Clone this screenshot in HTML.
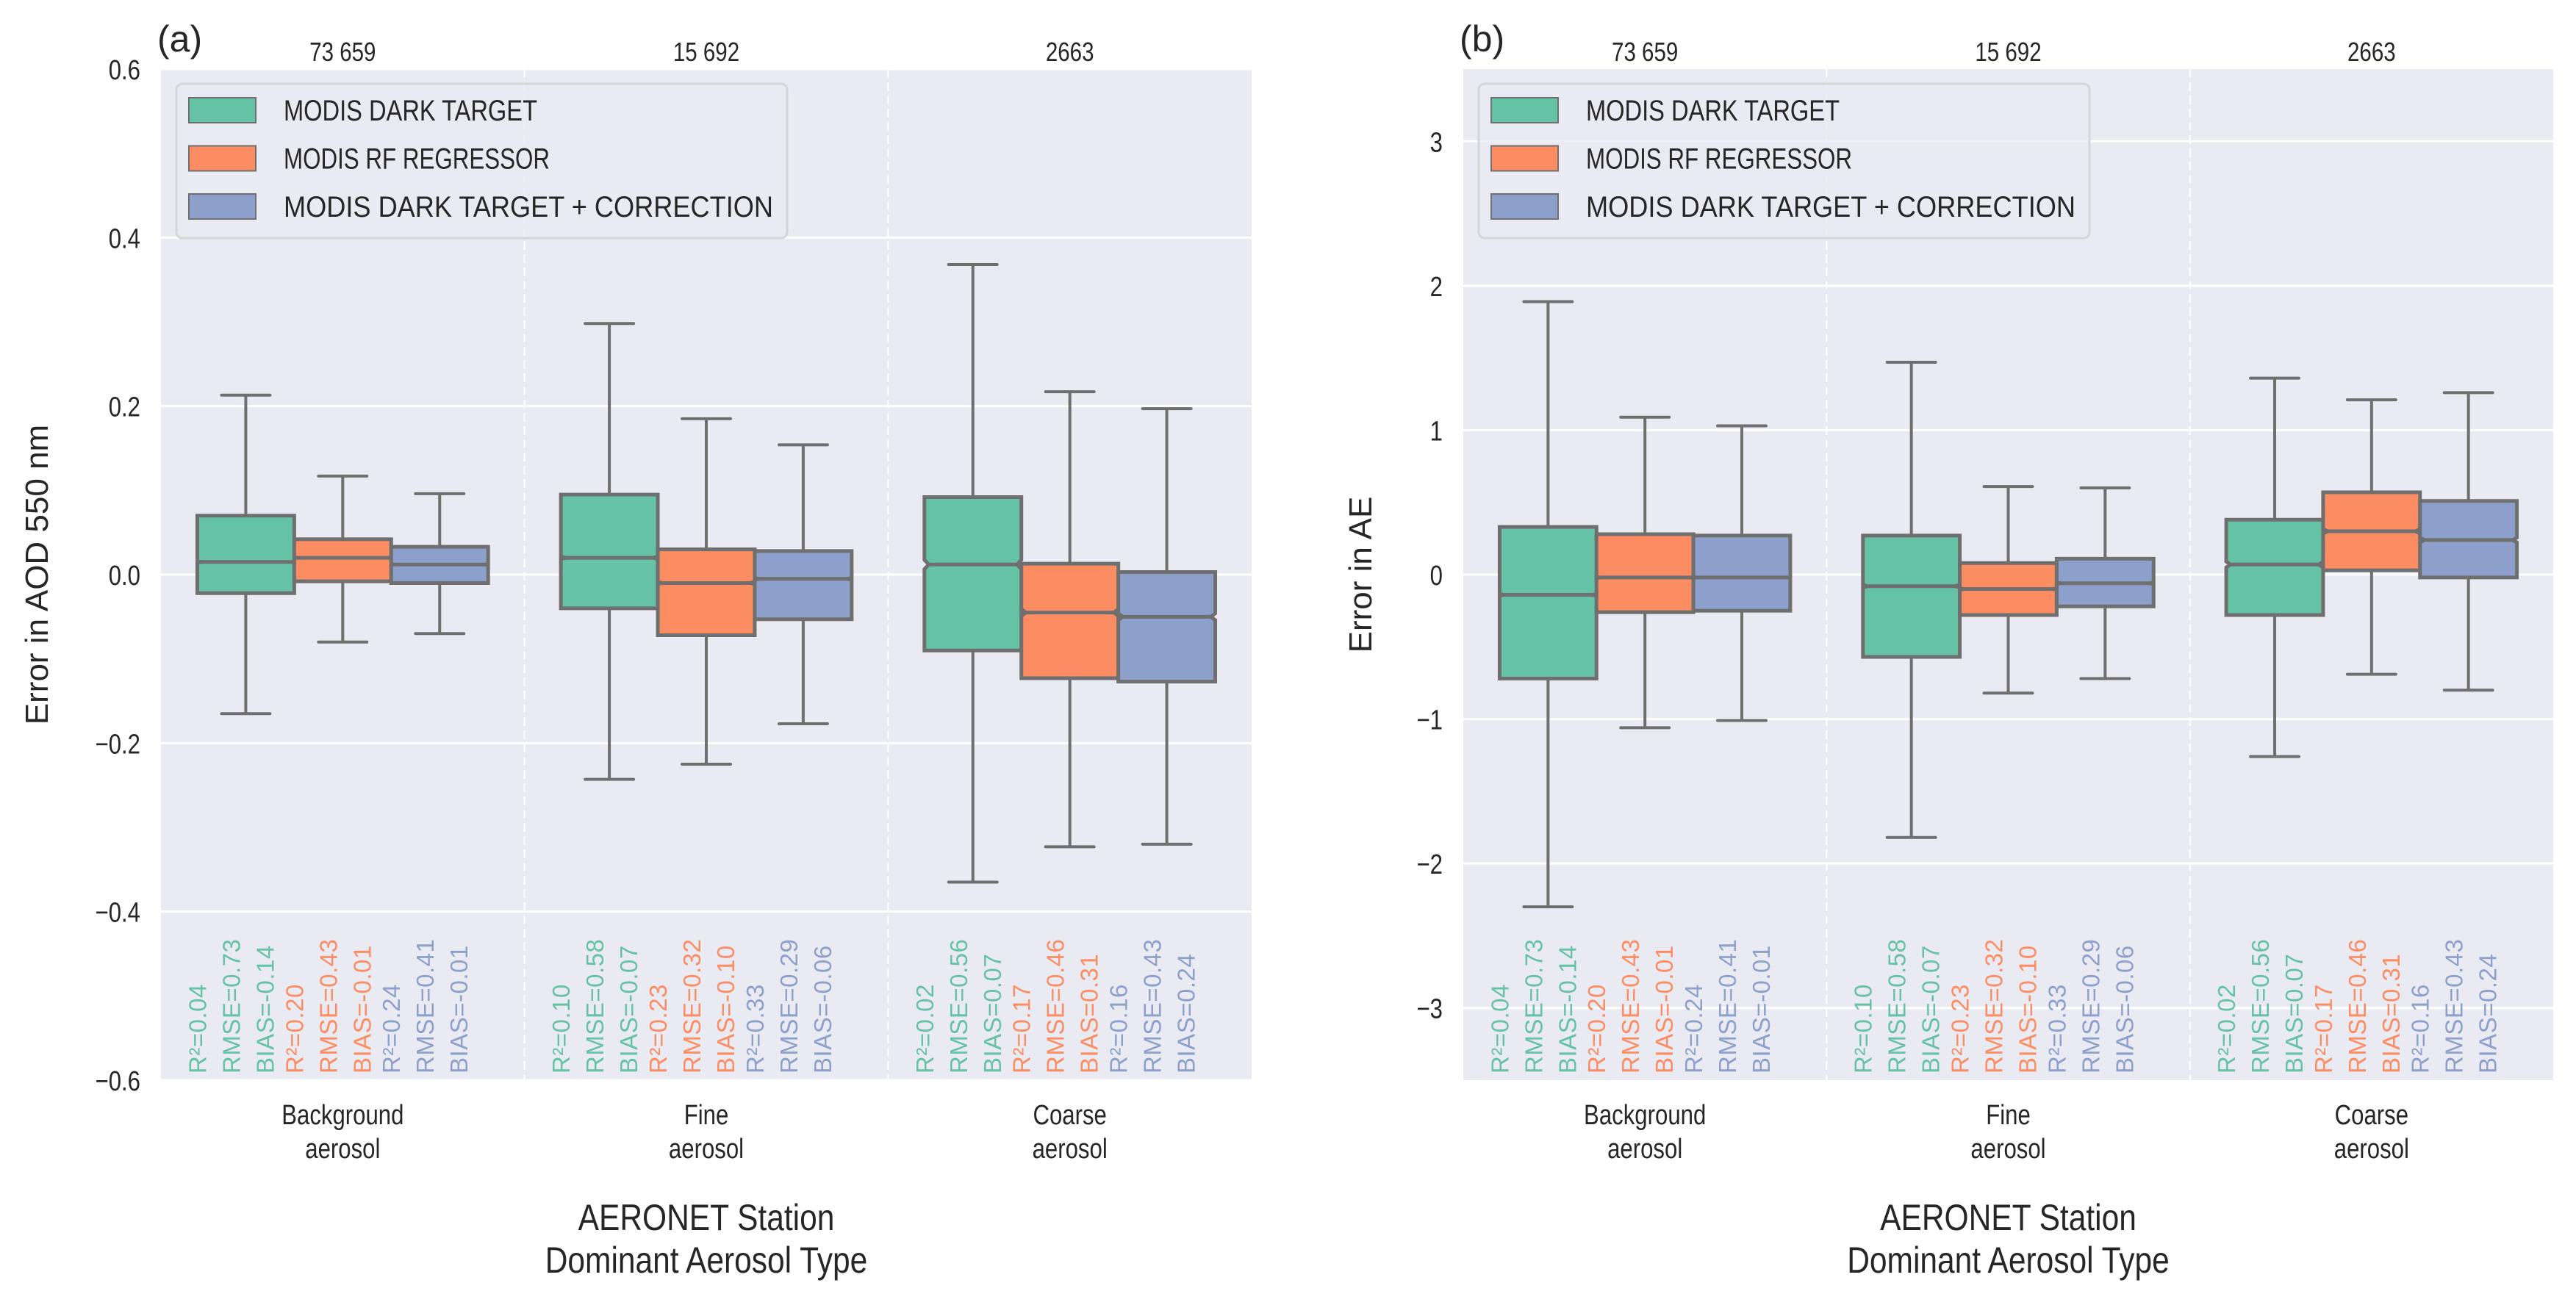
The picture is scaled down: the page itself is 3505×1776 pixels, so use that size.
<!DOCTYPE html>
<html><head><meta charset="utf-8"><style>
html,body{margin:0;padding:0;background:#fff;}
svg{display:block;}
text{font-family:"Liberation Sans Narrow","Liberation Sans",sans-serif;fill:#262626;}
.stat{font-family:"Liberation Sans",sans-serif;letter-spacing:0.5px;}
.big{font-family:"Liberation Sans",sans-serif;}
</style></head><body>
<svg id="fig" width="3505" height="1776" viewBox="0 0 3505 1776" xmlns="http://www.w3.org/2000/svg"></svg>
<script>
const categories = ["Background|aerosol", "Fine|aerosol", "Coarse|aerosol"];
const counts = [73659, 15692, 2663];
const countLabels = ["73 659", "15 692", "2663"];
const seriesNames = ["MODIS DARK TARGET", "MODIS RF REGRESSOR", "MODIS DARK TARGET + CORRECTION"];
const seriesColors = ["#66c2a5", "#fc8d62", "#8da0cb"];
// [whiskerLow, q1, median, q3, whiskerHigh] per category
const aodDarkTarget = [[-0.165,-0.022,0.015,0.070,0.213],[-0.243,-0.040,0.020,0.095,0.298],[-0.365,-0.090,0.012,0.092,0.368]];
const aodRF = [[-0.080,-0.008,0.020,0.042,0.117],[-0.225,-0.072,-0.010,0.030,0.185],[-0.323,-0.123,-0.045,0.013,0.217]];
const aodCorr = [[-0.070,-0.010,0.012,0.033,0.096],[-0.177,-0.053,-0.005,0.028,0.154],[-0.320,-0.127,-0.050,0.003,0.197]];
const aeDarkTarget = [[-2.30,-0.72,-0.14,0.33,1.89],[-1.82,-0.57,-0.08,0.27,1.47],[-1.26,-0.28,0.07,0.38,1.36]];
const aeRF = [[-1.06,-0.26,-0.02,0.28,1.09],[-0.82,-0.28,-0.10,0.08,0.61],[-0.69,0.03,0.30,0.57,1.21]];
const aeCorr = [[-1.01,-0.25,-0.02,0.27,1.03],[-0.72,-0.22,-0.06,0.11,0.60],[-0.80,-0.02,0.24,0.51,1.26]];
const r2Vals = [["0.04","0.20","0.24"],["0.10","0.23","0.33"],["0.02","0.17","0.16"]];
const rmseVals = [["0.73","0.43","0.41"],["0.58","0.32","0.29"],["0.56","0.46","0.43"]];
const biasVals = [["-0.14","-0.01","-0.01"],["-0.07","-0.10","-0.06"],["0.07","0.31","0.24"]];
const aodTicks = [-0.6,-0.4,-0.2,0.0,0.2,0.4,0.6];
const aodTickLabels = ["\u22120.6","\u22120.4","\u22120.2","0.0","0.2","0.4","0.6"];
const aeTicks = [-3,-2,-1,0,1,2,3];
const aeTickLabels = ["\u22123","\u22122","\u22121","0","1","2","3"];

const NS = "http://www.w3.org/2000/svg";
const svg = document.getElementById("fig");
function mk(tag, attrs, parent) {
  const e = document.createElementNS(NS, tag);
  for (const k in attrs) e.setAttribute(k, attrs[k]);
  (parent || svg).appendChild(e);
  return e;
}

function panel(cfg) {
  const g = mk("g", {});
  
  
  const L = cfg.left, R = cfg.right, T = 94, B = 1470;
  const gw = (R - L) / categories.length;
  const y = v => T + (cfg.ymax - v) / (cfg.ymax - cfg.ymin) * (B - T);
  const xc = i => L + gw * (i + 0.5);
  const bg = mk("rect", {x:L, y:T, width:R-L, height:B-T, fill:"#eaeaf2"}, g);
  
  
  cfg.ticks.forEach((t, i) => {
    const gl = mk("line", {x1:L, x2:R, y1:y(t), y2:y(t), stroke:"#fff", "stroke-width":3}, g);
    
    
    const tl = mk("text", {x:0, y:0, "font-size":38, "text-anchor":"end", transform:"translate("+(L-28)+","+(y(t)+14)+") scale(0.82,1)"}, g);
    tl.textContent = cfg.tickLabels[i];
    
    
  });
  for (let i = 1; i < categories.length; i++) {
    const s = mk("line", {x1:L+gw*i, x2:L+gw*i, y1:T, y2:B, stroke:"#fff", "stroke-width":2, "stroke-dasharray":"12,6"}, g);
    
    
  }
  const bw = gw * 0.8 / 3;
  categories.forEach((c, ci) => {
    const cnt = mk("text", {x:0, y:0, "font-size":36, "text-anchor":"middle", transform:"translate("+xc(ci)+",83) scale(0.82,1)"}, g);
    cnt.textContent = countLabels[ci];
    
    
    const parts = c.split("|");
    parts.forEach((p, pi) => {
      const xt = mk("text", {x:0, y:0, "font-size":38, "text-anchor":"middle", transform:"translate("+xc(ci)+","+(1530+pi*46)+") scale(0.82,1)"}, g);
      xt.textContent = p;
      
      
    });
    cfg.series.forEach((ser, si) => {
      const d = ser[ci];
      const cx = xc(ci) + (si - 1) * bw;
      const x0 = cx - bw/2, x1 = cx + bw/2;
      const [wl, q1, md, q3, wh] = d;
      const nh = 1.57 * (q3 - q1) / Math.sqrt(counts[ci]);
      const yMt = y(md + nh), yMb = y(md - nh), yM = y(md);
      const ins = 6;
      const wk = mk("line", {x1:cx, x2:cx, y1:y(wh), y2:y(q3), stroke:"#6f6f6f", "stroke-width":4}, g);
      
      
      const wk2 = mk("line", {x1:cx, x2:cx, y1:y(q1), y2:y(wl), stroke:"#6f6f6f", "stroke-width":4}, g);
      
      
      [wh, wl].forEach(v => {
        const cap = mk("line", {x1:cx-bw/4, x2:cx+bw/4, y1:y(v), y2:y(v), stroke:"#6f6f6f", "stroke-width":4, "stroke-linecap":"round"}, g);
        
        
      });
      const pts = [[x0,y(q3)],[x1,y(q3)],[x1,yMt],[x1-ins,yM],[x1,yMb],[x1,y(q1)],[x0,y(q1)],[x0,yMb],[x0+ins,yM],[x0,yMt]];
      const box = mk("polygon", {points:pts.map(p=>p.join(",")).join(" "), fill:seriesColors[si], stroke:"#6f6f6f", "stroke-width":5, "stroke-linejoin":"miter"}, g);
      
      
      const ml = mk("line", {x1:x0+ins, x2:x1-ins, y1:yM, y2:yM, stroke:"#6f6f6f", "stroke-width":5}, g);
      
      
      const stats = ["R\u00b2=" + r2Vals[ci][si], "RMSE=" + rmseVals[ci][si], "BIAS=" + biasVals[ci][si]];
      stats.forEach((s, k) => {
        const tx = cx - 66 + k*46 + 12;
        const st = mk("text", {x:0, y:0, "font-size":33, class:"stat", fill:seriesColors[si], transform:"translate("+tx+",1461) rotate(-90)"}, g);
        st.setAttribute("style", "fill:" + seriesColors[si]);
        st.textContent = s;
        
        
      });
    });
  });
  // legend
  const lg = mk("g", {}, g);
  
  
  mk("rect", {x:L+21, y:114, width:831, height:210, rx:8, fill:"#eaeaf2", "fill-opacity":0.8, stroke:"#d6d6d6", "stroke-width":3}, lg);
  seriesNames.forEach((n, i) => {
    const cy = 150 + i*65.5;
    const sw = mk("rect", {x:L+38, y:cy-17, width:91, height:34, fill:seriesColors[i], stroke:"#6f6f6f", "stroke-width":2}, lg);
    
    
    const lt = mk("text", {x:L+167, y:cy+14, "font-size":40}, lg);
    lt.textContent = n;
    lt.setAttribute("textLength", [345, 362, 666][i]);
    lt.setAttribute("lengthAdjust", "spacingAndGlyphs");
    
    
  });
  const pl = mk("text", {x:L-5, y:70, "font-size":50, class:"big"}, g);
  pl.textContent = cfg.letter;
  
  
  const yl = mk("text", {x:0, y:0, "font-size":44, class:"big", "text-anchor":"middle", transform:"translate("+cfg.ylabelX+",782) rotate(-90)"}, g);
  yl.textContent = cfg.ylabel;
  
  
  ["AERONET Station", "Dominant Aerosol Type"].forEach((s, i) => {
    const xl = mk("text", {x:0, y:0, "font-size":50, "text-anchor":"middle", transform:"translate("+((L+R)/2)+","+(1674+i*58)+") scale(0.85,1)"}, g);
    xl.textContent = s;
    
    
  });
}

panel({name:"panel-aod", letter:"(a)", left:219, right:1703, ymin:-0.6, ymax:0.6, ticks:aodTicks, tickLabels:aodTickLabels,
  series:[aodDarkTarget, aodRF, aodCorr], ylabel:"Error in AOD 550 nm", ylabelX:65});
panel({name:"panel-ae", letter:"(b)", left:1991, right:3474, ymin:-3.5, ymax:3.5, ticks:aeTicks, tickLabels:aeTickLabels,
  series:[aeDarkTarget, aeRF, aeCorr], ylabel:"Error in AE", ylabelX:1866});
</script>
</body></html>
